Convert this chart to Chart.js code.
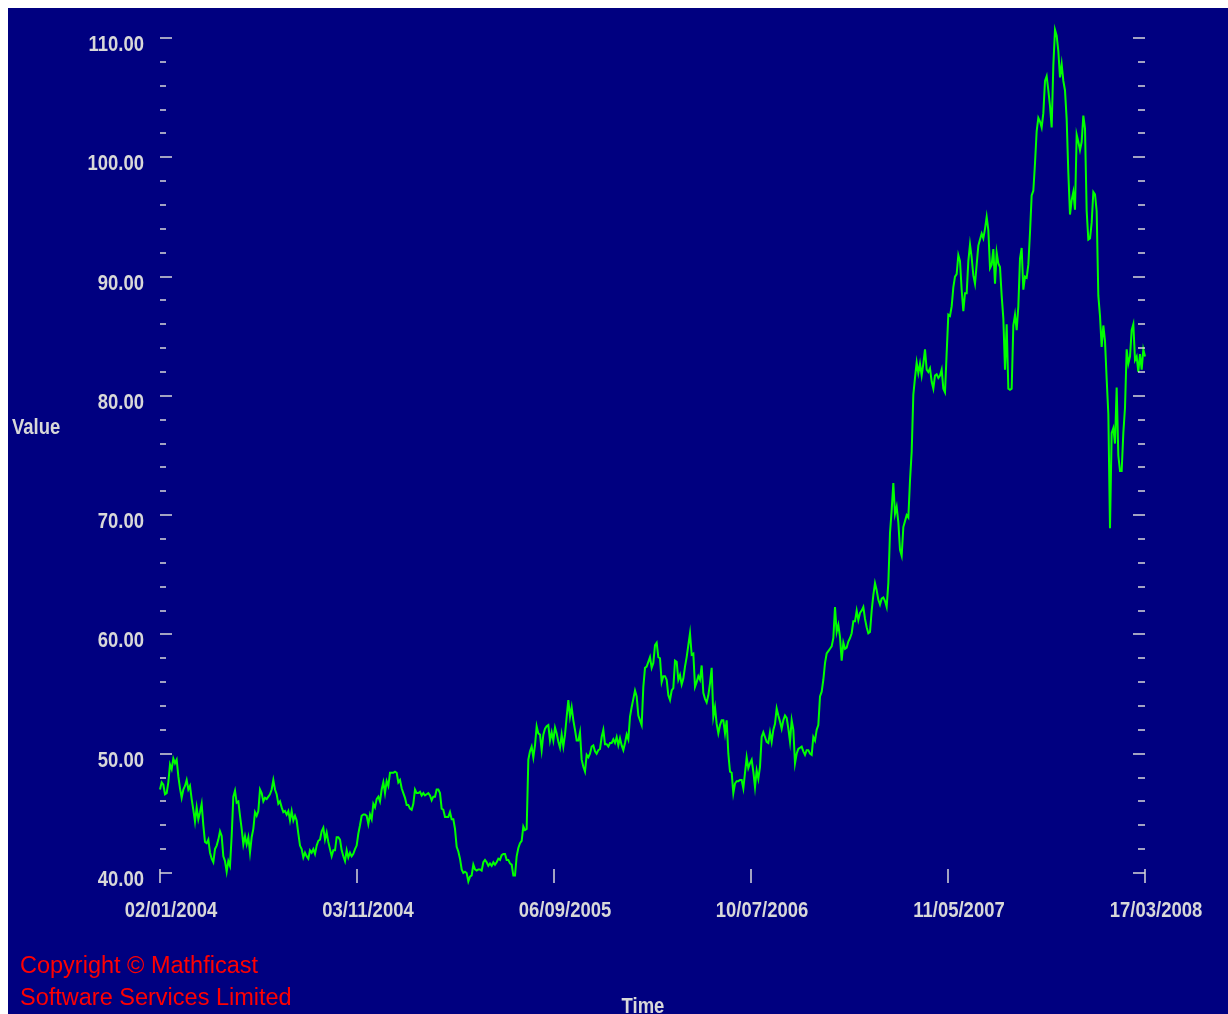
<!DOCTYPE html>
<html>
<head>
<meta charset="utf-8">
<title>Value over time</title>
<script src="https://cdn.jsdelivr.net/npm/chart.js@4.4.1/dist/chart.umd.min.js"></script>
<style>
  html, body { margin: 0; padding: 0; background: #ffffff; overflow: hidden; }
  body { padding: 8px 0 0 8px; }
  canvas { display: block; background: #000080; }
</style>
</head>
<body>
<canvas id="chart" width="1220" height="1006"></canvas>
<script>
// ─── Data ────────────────────────────────────────────
// x tick labels (evenly spaced over the series)
var dateLabels = ['02/01/2004', '03/11/2004', '06/09/2005', '10/07/2006', '11/05/2007', '17/03/2008'];

// y axis: 40..110, minor step 2, labelled every 10
var yMin = 40, yMax = 110, yStep = 2, yLabelEvery = 10;

// values, Jan 2004 -> Mar 2008
var values2004 = [
  47.0, 47.6, 47.4, 46.6, 46.7, 47.6, 49.1, 48.7, 49.6, 49.2, 49.5, 48.1, 47.1, 46.3, 47.0, 47.3,
  47.8, 47.0, 47.3, 46.2, 45.3, 44.3, 45.5, 44.5, 45.1, 45.8, 44.0, 42.6, 42.5, 42.8, 41.7, 41.2,
  40.9, 42.0, 42.3, 42.8, 43.5, 43.1, 41.4, 41.0, 40.1, 41.0, 40.6, 43.1, 46.4, 46.9, 45.9, 46.0,
  44.8, 43.7, 42.4, 43.1, 42.4, 43.0, 41.7, 43.0, 43.7, 45.1, 44.8, 45.2, 47.0, 46.7, 46.0, 46.3,
  46.2, 46.4, 46.6, 47.0, 47.8, 47.0, 46.6, 45.8, 46.0, 45.5, 45.1, 45.2, 44.9, 45.2, 44.4, 45.2,
  44.4, 44.8, 44.4, 43.3, 42.3, 42.0, 41.3, 41.7, 41.4, 41.2, 41.9, 41.7, 42.0, 41.6, 42.3, 42.7,
  42.8, 43.5, 43.8, 42.8, 43.4, 42.6, 42.0, 41.4, 41.9, 41.9, 43.0, 43.0, 42.8, 41.9, 41.4, 41.0,
  41.9, 41.3, 41.7, 41.4, 41.6, 42.0, 42.3, 43.3, 44.0, 44.8, 44.9, 44.9, 44.8, 44.1, 44.9, 44.5,
  45.8, 45.5, 46.2, 46.4, 46.0, 47.0, 47.6, 46.7, 47.7, 47.3, 48.4, 48.4, 48.4, 48.5, 48.4, 47.6,
  47.8, 47.1, 46.7
];
var values2005 = [
  46.3, 45.7, 45.7, 45.4, 45.3, 45.8, 47.0, 46.7, 46.7, 46.8, 46.5, 46.7, 46.5, 46.6, 46.7, 46.5,
  46.1, 46.4, 46.4, 47.0, 47.0, 46.7, 45.4, 45.3, 44.7, 44.7, 44.7, 45.1, 44.5, 44.5, 43.7, 42.2,
  41.8, 41.2, 40.3, 40.0, 40.1, 40.0, 39.3, 39.7, 39.8, 40.7, 40.3, 40.2, 40.3, 40.3, 40.2, 40.9,
  41.1, 40.9, 40.6, 40.8, 40.6, 40.9, 40.7, 40.9, 41.2, 41.1, 41.5, 41.6, 41.6, 41.1, 41.1, 40.8,
  40.7, 39.8, 39.8, 41.4, 42.1, 42.5, 42.7, 43.9, 43.6, 43.7, 49.5, 50.2, 50.6, 49.7, 50.7, 52.3,
  51.7, 51.6, 50.3, 51.6, 52.1, 52.3, 52.4, 51.1, 51.8, 51.1, 52.2, 51.7, 51.0, 50.5, 51.6, 50.6,
  51.6, 53.1, 54.5, 53.1, 53.9, 52.8, 52.0, 51.1, 51.1, 51.8, 49.5, 48.9, 48.5, 49.9, 49.7, 50.0,
  50.6, 50.7, 50.2, 50.0, 50.3, 50.4, 51.4, 52.0, 50.8, 50.8, 50.6, 50.9, 50.9, 51.2, 50.9, 51.4,
  50.7, 51.3, 50.7, 50.3, 50.9, 51.6, 51.2, 53.1, 53.9, 54.6, 55.3, 54.8, 53.2, 52.8, 52.4, 55.6,
  57.2, 57.3, 57.7
];
var values2006 = [
  58.1, 57.2, 57.6, 59.1, 59.3, 58.1, 58.0, 56.0, 56.5, 56.5, 56.2, 54.9, 54.5, 55.3, 55.5, 57.8,
  57.7, 56.2, 56.6, 55.8, 56.3, 57.3, 58.1, 59.1, 60.1, 58.3, 58.4, 55.6, 56.0, 56.5, 56.2, 57.4,
  55.1, 54.6, 54.3, 54.9, 55.9, 57.2, 53.1, 53.9, 52.5, 51.7, 52.4, 52.8, 52.8, 51.7, 52.8, 50.0,
  48.5, 48.4, 46.7, 47.5, 47.7, 47.7, 47.8, 47.8, 47.1, 48.4, 49.7, 48.8, 49.2, 49.5, 48.5, 47.2,
  48.6, 47.9, 48.9, 51.4, 51.8, 51.4, 51.0, 50.9, 51.8, 51.0, 52.0, 52.5, 53.8, 53.2, 52.7, 52.1,
  52.8, 53.2, 53.0, 52.1, 51.0, 52.8, 52.0, 49.2, 50.0, 50.4, 50.5, 50.6, 50.2, 49.9, 50.3, 50.3,
  50.0, 49.9, 51.4, 51.1, 52.0, 52.4, 54.8, 55.2, 56.2, 57.6, 58.4, 58.6, 58.8, 59.0, 59.7, 62.3,
  60.2, 60.8, 59.8, 57.8, 59.3, 58.8, 58.9, 59.4, 59.7, 60.1, 61.1, 61.1, 62.0, 61.2, 61.8, 62.0,
  62.3, 61.3, 60.6, 60.1, 60.2, 62.0, 63.3, 64.3, 63.7, 62.9, 62.5, 63.0, 63.1, 62.8, 62.3, 64.3,
  68.5, 70.4, 72.7, 70.1, 70.7, 69.4
];
var values2007 = [
  67.1, 66.6, 69.0, 69.5, 70.0, 69.8, 72.9, 75.3, 80.1, 81.5, 82.8, 81.9, 82.7, 81.7, 82.7, 83.9,
  82.2, 82.0, 82.3, 81.2, 80.6, 81.7, 81.8, 81.5, 81.7, 82.2, 80.6, 80.3, 83.6, 86.8, 86.7, 87.5,
  89.1, 90.0, 90.2, 91.8, 91.3, 88.9, 87.1, 88.6, 88.6, 91.3, 92.7, 91.6, 90.1, 89.4, 91.0, 92.6,
  93.1, 93.6, 93.2, 94.0, 95.0, 93.9, 90.7, 91.0, 92.3, 89.4, 92.0, 91.1, 90.8, 88.4, 86.5, 82.2,
  86.0, 80.6, 80.5, 80.6, 85.9, 86.8, 85.5, 87.5, 91.5, 92.4, 88.9, 90.0, 89.9, 91.0, 93.7, 96.8,
  97.2, 99.5, 102.2, 103.3, 103.0, 102.5, 103.7, 106.4, 106.8, 105.6, 104.3, 102.5, 107.7, 110.7,
  110.2, 108.9, 106.7, 107.8, 106.4, 105.6, 103.2, 98.7, 95.2, 96.4, 97.1, 95.6, 101.9, 101.3,
  100.6, 101.3, 103.5, 102.4, 95.5, 93.1, 93.2, 94.5, 97.1, 96.9, 95.5, 88.4, 86.7, 84.1, 85.9,
  84.6, 81.4, 78.5, 68.9, 76.9, 77.3, 76.0, 80.7, 75.0, 73.7, 73.7, 76.9, 79.0, 83.9, 82.7, 83.3,
  85.5, 86.0, 83.0, 83.3, 82.0, 83.5, 82.2, 83.9, 83.3
];

var values = values2004.concat(values2005, values2006, values2007);

// ─── Style ───────────────────────────────────────────
var GREY = '#d8d8d8';
var SANS = '"Liberation Sans", Arial, sans-serif';
var SQUEEZE = 0.84;   // the original uses a narrow bold face

// draw text horizontally condensed (no narrow font installed)
function narrowText(ctx, text, x, y, align) {
  ctx.save();
  ctx.textAlign = align;
  ctx.scale(SQUEEZE, 1);
  ctx.fillText(text, x / SQUEEZE, y);
  ctx.restore();
}

// inward tick marks on left/right/bottom, tick labels and free texts
var decorations = {
  id: 'decorations',
  afterDatasetsDraw: function(chart) {
    var ctx = chart.ctx, a = chart.chartArea;
    var ys = chart.scales.y, xs = chart.scales.x;
    ctx.save();
    ctx.strokeStyle = GREY;
    ctx.lineWidth = 1.5;
    ctx.beginPath();
    ys.ticks.forEach(function(t) {
      var py = Math.round(ys.getPixelForValue(t.value));
      var major = t.value % yLabelEvery === 0;
      ctx.moveTo(a.left, py);  ctx.lineTo(a.left + (major ? 12 : 6), py);
      ctx.moveTo(a.right, py); ctx.lineTo(a.right - (major ? 12 : 7), py);
    });
    xs.ticks.forEach(function(t) {
      var px = Math.round(xs.getPixelForValue(t.value));
      ctx.moveTo(px, a.bottom - 4); ctx.lineTo(px, a.bottom + 10);
    });
    ctx.stroke();

    ctx.fillStyle = GREY;
    ctx.font = 'bold 22px ' + SANS;
    ctx.textBaseline = 'middle';
    ys.ticks.forEach(function(t) {
      if (t.label) narrowText(ctx, t.label, a.left - 16, ys.getPixelForValue(t.value) + 7, 'right');
    });
    xs.ticks.forEach(function(t) {
      narrowText(ctx, t.label, xs.getPixelForValue(t.value) + 11, a.bottom + 38, 'center');
    });
    narrowText(ctx, 'Value', 4, 420, 'left');
    narrowText(ctx, 'Time', 635, 999, 'center');

    ctx.fillStyle = '#ff0000';
    ctx.font = '23.5px ' + SANS;
    ctx.textAlign = 'left';
    ctx.textBaseline = 'alphabetic';
    ctx.fillText('Copyright \u00A9 Mathficast', 12, 965);
    ctx.fillText('Software Services Limited', 12, 997);
    ctx.restore();
  }
};

// ─── Chart ───────────────────────────────────────────
var lastIndex = values.length - 1;

new Chart(document.getElementById('chart').getContext('2d'), {
  type: 'line',
  data: {
    datasets: [{
      label: 'Value',
      data: values.map(function(v, i) { return { x: i, y: v }; }),
      borderColor: '#00ff00',
      borderWidth: 2,
      pointRadius: 0,
      tension: 0,
      fill: false,
      clip: false
    }]
  },
  options: {
    responsive: false,
    animation: false,
    events: [],
    layout: { padding: { left: 0, top: 30, right: 83, bottom: 0 } },
    plugins: { legend: { display: false }, tooltip: { enabled: false } },
    scales: {
      x: {
        type: 'linear',
        min: 0, max: lastIndex,
        grid: { display: false },
        border: { display: false },
        afterBuildTicks: function(scale) {
          scale.ticks = dateLabels.map(function(d, i) {
            return { value: i * lastIndex / (dateLabels.length - 1) };
          });
        },
        afterFit: function(scale) { scale.height = 141; },
        ticks: {
          display: false, autoSkip: false, maxRotation: 0,
          callback: function(v, i) { return dateLabels[i]; }
        }
      },
      y: {
        min: yMin, max: yMax,
        grid: { display: false },
        border: { display: false },
        afterFit: function(scale) { scale.width = 152; },
        ticks: {
          display: false, stepSize: yStep, autoSkip: false,
          callback: function(v) { return v % yLabelEvery === 0 ? v.toFixed(2) : ''; }
        }
      }
    }
  },
  plugins: [decorations]
});
</script>
</body>
</html>
